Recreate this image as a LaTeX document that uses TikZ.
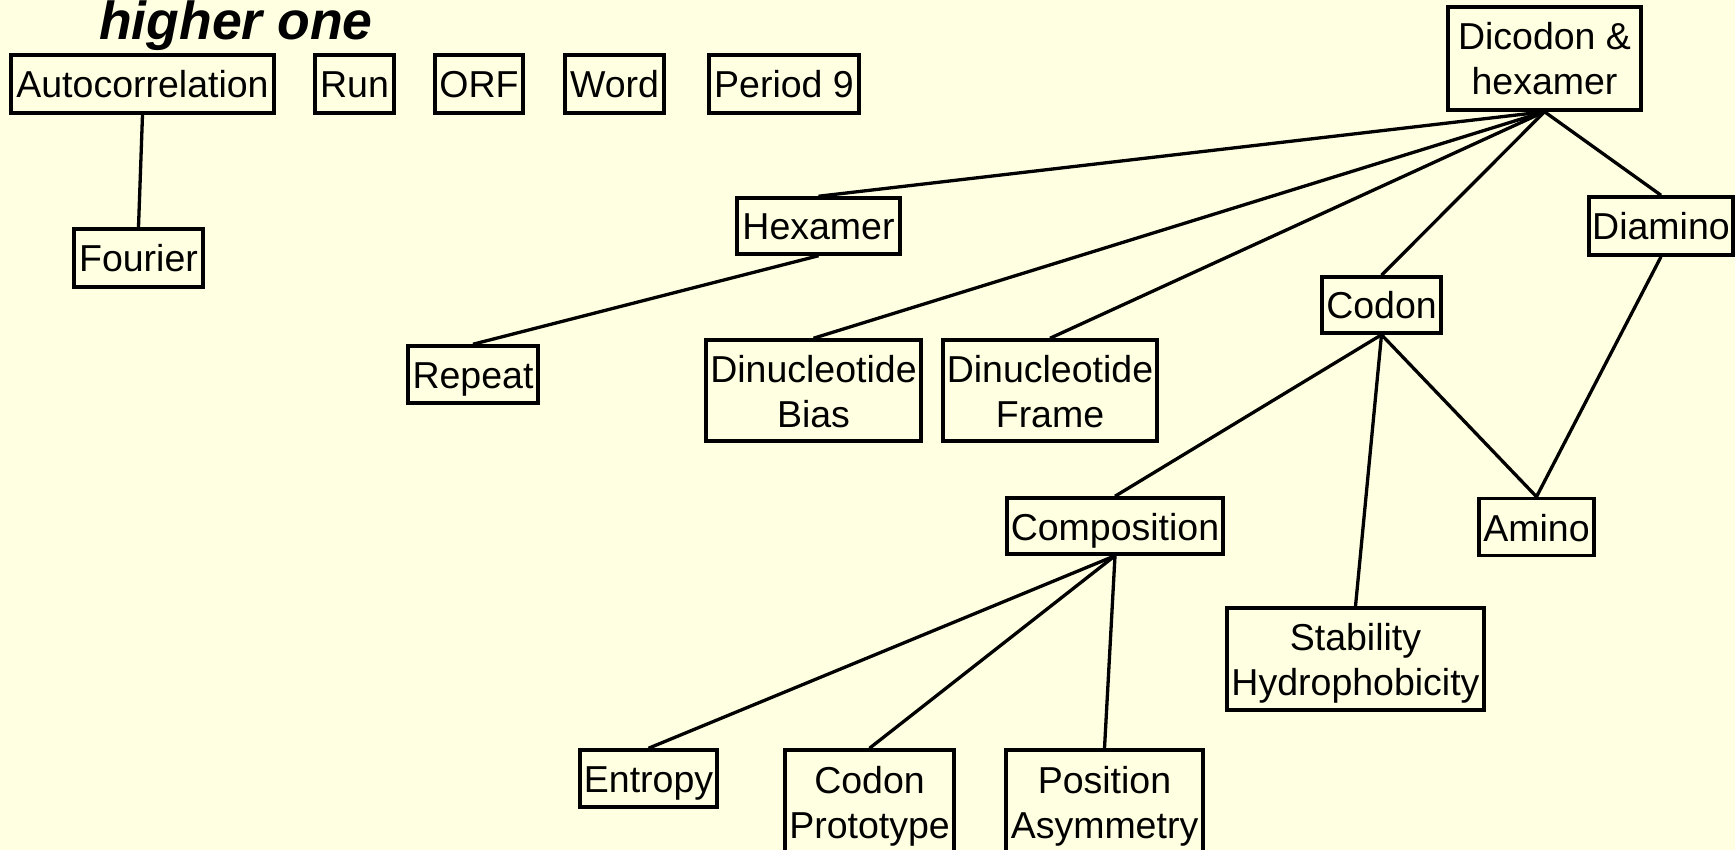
\documentclass[tikz,border=0pt]{standalone}
\usepackage{fontspec}
\setmainfont{Liberation Sans}
\definecolor{bgyellow}{RGB}{255,255,225}
\begin{document}
\begin{tikzpicture}[x=1pt,y=-1pt,
  boxbase/.style={draw=black, line width=3.5pt, fill=bgyellow, inner sep=0pt, align=center,
    font=\fontsize{37.5}{45}\selectfont},
  box/.style={boxbase, text height=34pt, text depth=6pt},
  boxtwo/.style={boxbase, text height=73pt, text depth=0pt},
  link/.style={draw=black, line width=3.3pt}]
\useasboundingbox (0,0) rectangle (1735,850);
\fill[bgyellow] (0,0) rectangle (1735,850);
\node[anchor=base, font=\fontsize{53.5}{60}\selectfont\bfseries\itshape] (title) at (236,40) {higher one};
% nodes
\node[box, minimum width=263, minimum height=58] (auto) at (142.5,84) {Autocorrelation};
\node[box, minimum width=79, minimum height=58] (run) at (354.5,84) {Run};
\node[box, minimum width=88, minimum height=58] (orf) at (479,84) {ORF};
\node[box, minimum width=99, minimum height=58] (word) at (614.5,84) {Word};
\node[box, minimum width=150, minimum height=58] (per) at (784,84) {Period 9};
\node[box, minimum width=129, minimum height=58] (four) at (138.5,258) {Fourier};
\node[boxtwo, minimum width=193, minimum height=103] (dico) at (1544.5,58.5) {Dicodon \&\\hexamer};
\node[box, minimum width=163, minimum height=56] (hexa) at (818.5,226) {Hexamer};
\node[box, minimum width=144, minimum height=58] (diam) at (1661,226) {Diamino};
\node[box, minimum width=119, minimum height=56] (codon) at (1381.5,305) {Codon};
\node[box, minimum width=130, minimum height=57] (rep) at (473,374.5) {Repeat};
\node[boxtwo, minimum width=215, minimum height=101] (dbias) at (813.5,390.5) {Dinucleotide\\Bias};
\node[boxtwo, minimum width=214, minimum height=101] (dframe) at (1050,390.5) {Dinucleotide\\Frame};
\node[box, minimum width=216, minimum height=56] (comp) at (1115,526) {Composition};
\node[box, minimum width=115, minimum height=57] (amino) at (1536.5,527) {Amino};
\node[boxtwo, minimum width=257, minimum height=102] (stab) at (1355.5,659) {Stability\\Hydrophobicity};
\node[box, minimum width=137, minimum height=57] (entr) at (648.5,778.5) {Entropy};
\node[boxtwo, minimum width=169, minimum height=103] (cproto) at (869.5,801.5) {Codon\\Prototype};
\node[boxtwo, minimum width=197, minimum height=103] (pasym) at (1104.5,801.5) {Position\\Asymmetry};
% connectors
\draw[link] (auto.south) -- (four.north);
\draw[link] (dico.south) -- (hexa.north);
\draw[link] (dico.south) -- (dbias.north);
\draw[link] (dico.south) -- (dframe.north);
\draw[link] (dico.south) -- (codon.north);
\draw[link] (dico.south) -- (diam.north);
\draw[link] (hexa.south) -- (rep.north);
\draw[link] (codon.south) -- (comp.north);
\draw[link] (codon.south) -- (stab.north);
\draw[link] (codon.south) -- (amino.north);
\draw[link] (diam.south) -- (amino.north);
\draw[link] (comp.south) -- (entr.north);
\draw[link] (comp.south) -- (cproto.north);
\draw[link] (comp.south) -- (pasym.north);
\end{tikzpicture}
\end{document}
